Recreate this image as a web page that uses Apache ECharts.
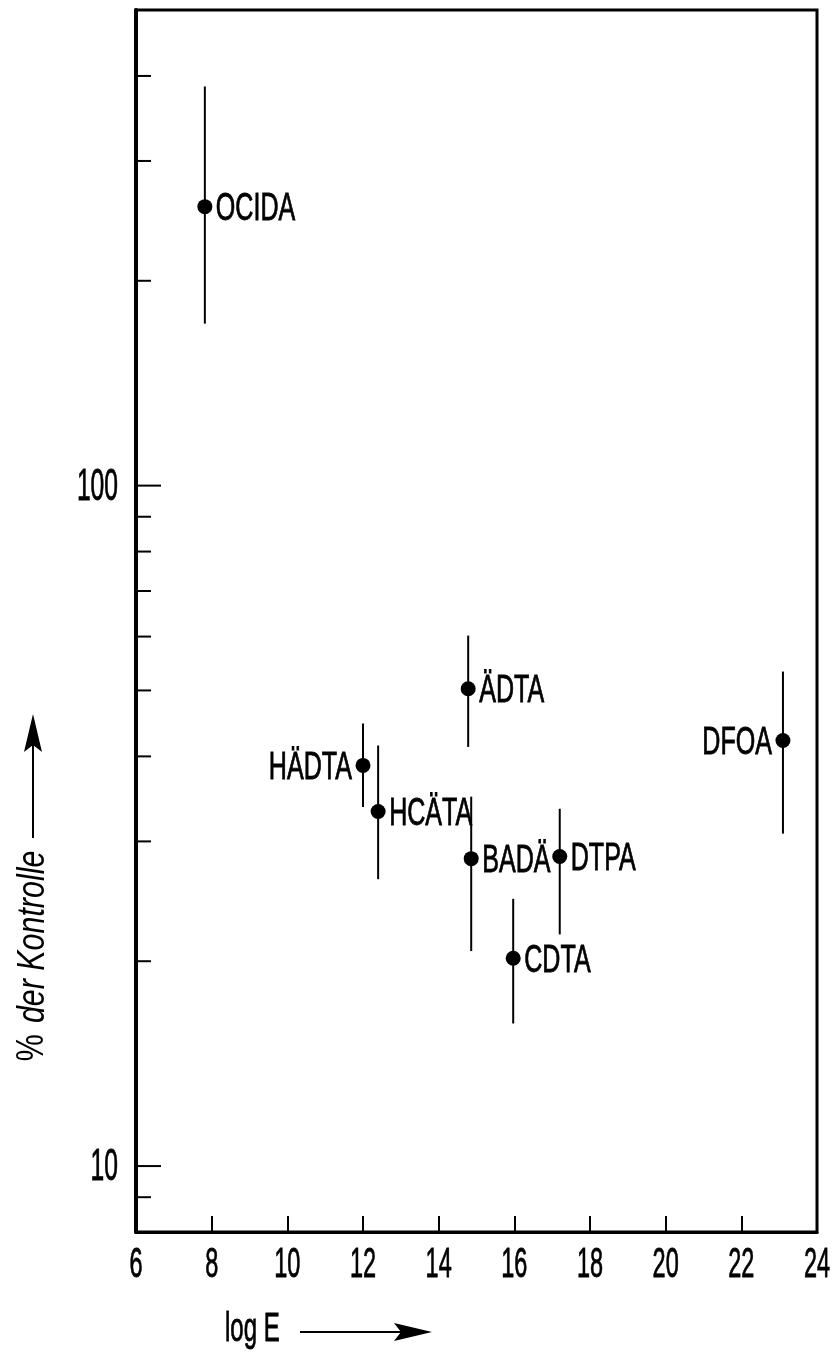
<!DOCTYPE html>
<html>
<head>
<meta charset="utf-8">
<script src="https://cdn.jsdelivr.net/npm/echarts@6/dist/echarts.min.js"></script>
<style>
html, body { margin: 0; padding: 0; background: #fff; }
#chart { width: 839px; height: 1356px; }
</style>
</head>
<body>
<div id="chart"></div>
<script>
/* data */
var names = ['OCIDA', 'ÄDTA', 'HÄDTA', 'HCÄTA', 'BADÄ', 'DTPA', 'CDTA', 'DFOA'];
var logE = [7.82, 14.78, 12.0, 12.4, 14.86, 17.2, 15.97, 23.1];
var percent = [257, 50.3, 38.8, 33.2, 28.3, 28.5, 20.2, 42.2];
var percentHigh = [386, 60.2, 44.7, 41.5, 34.9, 33.5, 24.7, 53.3];
var percentLow = [173, 41.3, 33.7, 26.4, 20.7, 21.9, 16.2, 30.8];

var xTicks = [6, 8, 10, 12, 14, 16, 18, 20, 22, 24];
var yTicks = [9, 10, 20, 30, 40, 50, 60, 70, 80, 90, 100, 200, 300, 400];
var yLabels = [10, 100];

var xMin = 6, xMax = 24, yMin = 8, yMax = 500;

var FONT = '"Liberation Sans", Arial, sans-serif';
var leftLabelled = ['HÄDTA', 'DFOA'];

var chart = echarts.init(document.getElementById('chart'));

// narrow, slightly heavy lettering like the original stencil font
function narrowText(x, y, text, align, size, sx) {
    return {
        type: 'text',
        x: x,
        y: y,
        scaleX: sx,
        style: {
            text: text,
            fontFamily: FONT,
            fontSize: size,
            fill: '#000',
            stroke: '#000',
            lineWidth: 0.8,
            align: align,
            verticalAlign: 'middle'
        }
    };
}

var option = {
    animation: false,
    backgroundColor: '#fff',
    grid: {
        left: 136,
        right: 22,
        top: 10,
        bottom: 124,
        show: true,
        borderColor: '#000',
        borderWidth: 3
    },
    xAxis: {
        type: 'value',
        min: xMin,
        max: xMax,
        interval: 2,
        axisLine: { onZero: false, lineStyle: { color: '#000', width: 3 } },
        axisTick: { inside: true, length: 16, lineStyle: { color: '#000', width: 2 } },
        axisLabel: { show: false },
        splitLine: { show: false }
    },
    yAxis: {
        type: 'log',
        logBase: 10,
        min: yMin,
        max: yMax,
        axisLine: { show: true, onZero: false, lineStyle: { color: '#000', width: 4 } },
        axisTick: { show: false },
        axisLabel: { show: false },
        splitLine: { show: false }
    },
    graphic: [
        // y title
        {
            type: 'text',
            x: 33,
            y: 956,
            rotation: Math.PI / 2,
            scaleX: 0.8,
            style: {
                text: '{a|%}{s| }{b|der Kontrolle}',
                fill: '#000',
                align: 'center',
                verticalAlign: 'middle',
                rich: {
                    a: { fontFamily: FONT, fontSize: 38, fill: '#000' },
                    s: { fontFamily: FONT, fontSize: 38, width: 14 },
                    b: { fontFamily: FONT, fontSize: 38, fontStyle: 'italic', fill: '#000' }
                }
            }
        },
        { type: 'line', shape: { x1: 33, y1: 838, x2: 33, y2: 740 }, style: { stroke: '#000', lineWidth: 2 } },
        { type: 'polygon', shape: { points: [[33, 714], [24, 752], [33, 745], [42, 752]] }, style: { fill: '#000' } },
        // x title
        {
            type: 'text',
            x: 225,
            y: 1330,
            scaleX: 0.6,
            style: { text: 'log E', fontFamily: FONT, fontSize: 40, fill: '#000', stroke: '#000', lineWidth: 0.8, align: 'left', verticalAlign: 'middle' }
        },
        { type: 'line', shape: { x1: 300, y1: 1332, x2: 410, y2: 1332 }, style: { stroke: '#000', lineWidth: 2 } },
        { type: 'polygon', shape: { points: [[432, 1332], [394, 1323], [401, 1332], [394, 1341]] }, style: { fill: '#000' } }
    ],
    series: [
        {
            // y ticks and the two labels
            name: 'yTicks',
            type: 'custom',
            silent: true,
            data: yTicks.map(function (v) { return [xMin, v]; }),
            encode: { x: 0, y: 1 },
            renderItem: function (params, api) {
                var v = api.value(1);
                var p = api.coord([api.value(0), v]);
                var major = yLabels.indexOf(v) >= 0;
                var children = [{
                    type: 'line',
                    shape: { x1: p[0], y1: p[1], x2: p[0] + (major ? 25 : 15), y2: p[1] },
                    style: { stroke: '#000', lineWidth: 2 }
                }];
                if (major) {
                    children.push(narrowText(p[0] - 18, p[1] + 2, String(v), 'right', 44, 0.56));
                }
                return { type: 'group', children: children };
            }
        },
        {
            // x tick labels
            name: 'xLabels',
            type: 'custom',
            silent: true,
            data: xTicks.map(function (v) { return [v, yMin]; }),
            encode: { x: 0, y: 1 },
            renderItem: function (params, api) {
                var p = api.coord([api.value(0), api.value(1)]);
                return narrowText(p[0], p[1] + 33, String(api.value(0)), 'center', 42, 0.56);
            }
        },
        {
            // error bars and compound names
            name: 'ranges',
            type: 'custom',
            silent: true,
            data: names.map(function (n, i) { return [logE[i], percentLow[i], percentHigh[i], percent[i]]; }),
            encode: { x: 0, y: [1, 2, 3] },
            renderItem: function (params, api) {
                var i = params.dataIndex;
                var lo = api.coord([api.value(0), api.value(1)]);
                var hi = api.coord([api.value(0), api.value(2)]);
                var mid = api.coord([api.value(0), api.value(3)]);
                var left = leftLabelled.indexOf(names[i]) >= 0;
                return {
                    type: 'group',
                    children: [
                        {
                            type: 'line',
                            shape: { x1: lo[0], y1: lo[1], x2: hi[0], y2: hi[1] },
                            style: { stroke: '#000', lineWidth: 2 }
                        },
                        narrowText(left ? mid[0] - 11 : mid[0] + 11, mid[1] + 3, names[i], left ? 'right' : 'left', 38, 0.66)
                    ]
                };
            }
        },
        {
            name: 'points',
            type: 'scatter',
            symbol: 'circle',
            symbolSize: 15,
            itemStyle: { color: '#000', opacity: 1 },
            data: names.map(function (n, i) { return [logE[i], percent[i]]; })
        }
    ]
};
chart.setOption(option);
</script>
</body>
</html>
